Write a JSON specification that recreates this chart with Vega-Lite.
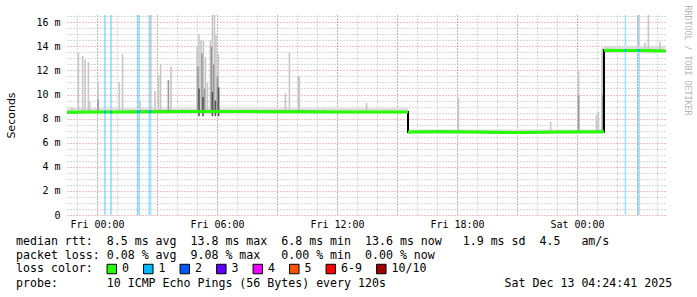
{
  "$schema": "https://vega.github.io/schema/vega-lite/v6.json",
  "autosize": "none",
  "width": 600,
  "height": 200,
  "padding": {"left": 67, "top": 15, "right": 30, "bottom": 82},
  "background": "white",
  "config": {
    "view": {"stroke": null},
    "axis": {"labelFont": "DejaVu Sans Mono", "labelFontSize": 10, "labelColor": "#000", "titleFont": "DejaVu Sans", "titleFontWeight": "normal", "titleColor": "#000", "labelFlush": false, "labelOverlap": false}
  },
  "title": {
    "text": [
      "median\u00a0rtt:\u00a0\u00a08.5\u00a0ms\u00a0avg\u00a0\u00a013.8\u00a0ms\u00a0max\u00a0\u00a06.8\u00a0ms\u00a0min\u00a0\u00a013.6\u00a0ms\u00a0now\u00a0\u00a0\u00a01.9\u00a0ms\u00a0sd\u00a0\u00a04.5\u00a0\u00a0\u00a0am/s",
      "packet\u00a0loss:\u00a00.08\u00a0%\u00a0avg\u00a0\u00a09.08\u00a0%\u00a0max\u00a0\u00a0\u00a00.00\u00a0%\u00a0min\u00a0\u00a00.00\u00a0%\u00a0now"
    ],
    "subtitle": "probe:\u00a0\u00a0\u00a0\u00a0\u00a0\u00a0\u00a010\u00a0ICMP\u00a0Echo\u00a0Pings\u00a0(56\u00a0Bytes)\u00a0every\u00a0120s\u00a0\u00a0\u00a0\u00a0\u00a0\u00a0\u00a0\u00a0\u00a0\u00a0\u00a0\u00a0\u00a0\u00a0\u00a0\u00a0\u00a0Sat\u00a0Dec\u00a013\u00a004:24:41\u00a02025",
    "orient": "bottom",
    "anchor": "start",
    "frame": "group",
    "font": "DejaVu Sans Mono",
    "fontSize": 11.6,
    "fontWeight": "normal",
    "color": "#000",
    "lineHeight": 14.2,
    "subtitleFont": "DejaVu Sans Mono",
    "subtitleFontSize": 11.6,
    "subtitleFontWeight": "normal",
    "subtitleColor": "#000",
    "subtitleLineHeight": 14.2,
    "subtitlePadding": 16,
    "offset": -40,
    "dx": -51
  },
  "datasets": {
    "loss": [
      {"h1": 0.35, "h2": 0.45, "loss": "1", "med": 8.55},
      {"h1": 0.65, "h2": 0.75, "loss": "1", "med": 8.55},
      {"h1": 2.0, "h2": 2.15, "loss": "1", "med": 8.57},
      {"h1": 2.57, "h2": 2.72, "loss": "1", "med": 8.57},
      {"h1": 26.38, "h2": 26.46, "loss": "1", "med": 13.65},
      {"h1": 27.02, "h2": 27.15, "loss": "1", "med": 13.65}
    ],
    "median": [
      {"i": 0, "h": -1.5, "med": 8.52, "seg": 1},
      {"i": 1, "h": -0.5, "med": 8.55, "seg": 1},
      {"i": 2, "h": 1, "med": 8.55, "seg": 1},
      {"i": 3, "h": 3, "med": 8.58, "seg": 1},
      {"i": 4, "h": 5, "med": 8.6, "seg": 1},
      {"i": 5, "h": 6, "med": 8.6, "seg": 1},
      {"i": 6, "h": 8, "med": 8.58, "seg": 1},
      {"i": 7, "h": 10, "med": 8.57, "seg": 1},
      {"i": 8, "h": 12, "med": 8.55, "seg": 1},
      {"i": 9, "h": 14, "med": 8.55, "seg": 1},
      {"i": 10, "h": 15.55, "med": 8.55, "seg": 1},
      {"i": 11, "h": 15.55, "med": 6.88, "seg": 2},
      {"i": 12, "h": 17, "med": 6.9, "seg": 2},
      {"i": 13, "h": 19, "med": 6.88, "seg": 2},
      {"i": 14, "h": 21, "med": 6.85, "seg": 2},
      {"i": 15, "h": 23, "med": 6.88, "seg": 2},
      {"i": 16, "h": 25.35, "med": 6.9, "seg": 2},
      {"i": 17, "h": 25.35, "med": 13.68, "seg": 3},
      {"i": 18, "h": 26, "med": 13.65, "seg": 3},
      {"i": 19, "h": 27, "med": 13.65, "seg": 3},
      {"i": 20, "h": 28.42, "med": 13.62, "seg": 3}
    ],
    "base": [
      {"h": -1.5, "lo": 8.4, "hi": 8.85},
      {"h": 15.55, "lo": 6.75, "hi": 7.1},
      {"h": 25.35, "lo": 13.45, "hi": 14.05},
      {"h": 28.42, "lo": 13.45, "hi": 14.05}
    ],
    "spikes": [
      {"h": -1.25, "lo": 8.5, "hi": 8.95, "s": "light"},
      {"h": -0.93, "lo": 8.55, "hi": 13.45, "s": "light"},
      {"h": -0.72, "lo": 8.55, "hi": 13.2, "s": "light"},
      {"h": -0.6, "lo": 8.55, "hi": 12.9, "s": "light"},
      {"h": -0.43, "lo": 8.55, "hi": 12.7, "s": "light"},
      {"h": -0.37, "lo": 8.55, "hi": 9.4, "s": "light"},
      {"h": 0.05, "lo": 8.55, "hi": 11.1, "s": "light"},
      {"h": 1.12, "lo": 8.55, "hi": 11.0, "s": "light"},
      {"h": 1.28, "lo": 8.55, "hi": 13.35, "s": "light"},
      {"h": 2.15, "lo": 8.55, "hi": 9.5, "s": "light"},
      {"h": 2.68, "lo": 8.55, "hi": 16.6, "s": "light"},
      {"h": 2.9, "lo": 8.55, "hi": 10.3, "s": "light"},
      {"h": 3.08, "lo": 8.55, "hi": 11.6, "s": "light"},
      {"h": 3.18, "lo": 8.55, "hi": 12.5, "s": "light"},
      {"h": 3.7, "lo": 8.55, "hi": 12.3, "s": "light"},
      {"h": 5.0, "lo": 8.55, "hi": 14.0, "s": "light"},
      {"h": 5.1, "lo": 8.55, "hi": 15.0, "s": "light"},
      {"h": 5.2, "lo": 8.55, "hi": 14.5, "s": "light"},
      {"h": 5.32, "lo": 8.55, "hi": 14.45, "s": "light"},
      {"h": 5.42, "lo": 8.55, "hi": 13.1, "s": "light"},
      {"h": 5.52, "lo": 8.55, "hi": 11.0, "s": "light"},
      {"h": 5.67, "lo": 8.55, "hi": 14.5, "s": "light"},
      {"h": 5.77, "lo": 8.55, "hi": 16.6, "s": "light"},
      {"h": 5.87, "lo": 8.55, "hi": 16.6, "s": "light"},
      {"h": 5.95, "lo": 8.55, "hi": 15.0, "s": "light"},
      {"h": 6.07, "lo": 8.55, "hi": 13.4, "s": "light"},
      {"h": 9.42, "lo": 8.55, "hi": 10.1, "s": "light"},
      {"h": 9.62, "lo": 8.55, "hi": 13.5, "s": "light"},
      {"h": 10.07, "lo": 8.55, "hi": 11.5, "s": "light"},
      {"h": 10.12, "lo": 8.55, "hi": 11.5, "s": "light"},
      {"h": 13.48, "lo": 8.55, "hi": 9.3, "s": "light"},
      {"h": 18.07, "lo": 6.88, "hi": 9.73, "s": "light"},
      {"h": 22.68, "lo": 6.88, "hi": 7.74, "s": "light"},
      {"h": 24.08, "lo": 6.88, "hi": 12.0, "s": "light"},
      {"h": 24.97, "lo": 6.88, "hi": 8.3, "s": "light"},
      {"h": 25.07, "lo": 6.88, "hi": 8.57, "s": "light"},
      {"h": 25.25, "lo": 6.88, "hi": 13.8, "s": "light"},
      {"h": 25.3, "lo": 6.88, "hi": 13.9, "s": "light"},
      {"h": 27.05, "lo": 13.6, "hi": 16.6, "s": "light"},
      {"h": 27.4, "lo": 13.6, "hi": 14.3, "s": "light"},
      {"h": 27.57, "lo": 13.6, "hi": 16.6, "s": "light"},
      {"h": 28.15, "lo": 13.6, "hi": 14.4, "s": "light"},
      {"h": 0.05, "lo": 8.55, "hi": 9.6, "s": "mid"},
      {"h": 3.57, "lo": 8.55, "hi": 11.2, "s": "mid"},
      {"h": 5.05, "lo": 8.5, "hi": 12.3, "s": "mid"},
      {"h": 5.25, "lo": 8.5, "hi": 13.4, "s": "mid"},
      {"h": 5.37, "lo": 8.5, "hi": 10.5, "s": "mid"},
      {"h": 5.72, "lo": 8.5, "hi": 14.0, "s": "mid"},
      {"h": 5.83, "lo": 8.5, "hi": 12.5, "s": "mid"},
      {"h": 6.02, "lo": 8.5, "hi": 11.5, "s": "mid"},
      {"h": 24.08, "lo": 6.88, "hi": 9.95, "s": "mid"},
      {"h": 25.28, "lo": 6.88, "hi": 10.0, "s": "mid"},
      {"h": 5.1, "lo": 8.2, "hi": 10.5, "s": "dark"},
      {"h": 5.3, "lo": 8.2, "hi": 9.8, "s": "dark"},
      {"h": 5.77, "lo": 8.2, "hi": 10.2, "s": "dark"},
      {"h": 5.92, "lo": 8.2, "hi": 9.5, "s": "dark"},
      {"h": 6.08, "lo": 8.2, "hi": 10.6, "s": "dark"}
    ]
  },
  "layer": [
    {
      "data": {"name": "loss"},
      "mark": {"type": "rect", "opacity": 0.36},
      "encoding": {
        "x": {"field": "h1", "type": "quantitative", "axis": null, "scale": {"domain": [-1.5, 28.5], "nice": false, "zero": false}},
        "x2": {"field": "h2"},
        "y": {"datum": 0, "type": "quantitative", "axis": null, "scale": {"domain": [0, 16.6], "nice": false, "zero": false}},
        "y2": {"datum": 16.6},
        "fill": {
          "field": "loss", "type": "nominal",
          "scale": {"domain": ["0", "1", "2", "3", "4", "5", "6-9", "10/10"], "range": ["#26ff00", "#00b8ff", "#0059ff", "#5e00ff", "#ee00ff", "#ff5500", "#ff0000", "#a10000"]},
          "legend": {
            "orient": "none", "legendX": -51, "legendY": 248, "direction": "horizontal",
            "title": "loss color:", "titleOrient": "left", "titleFont": "DejaVu Sans Mono", "titleFontSize": 11.6, "titleFontWeight": "normal", "titleColor": "#000", "titlePadding": 13,
            "labelFont": "DejaVu Sans Mono", "labelFontSize": 11.6, "labelColor": "#000", "labelOffset": 4.5,
            "symbolType": "square", "symbolSize": 90, "symbolStrokeColor": "#000", "symbolStrokeWidth": 1, "symbolOpacity": 1,
            "columnPadding": 11.5
          }
        }
      }
    },
    {
      "data": {"name": "base"},
      "mark": {"type": "area", "interpolate": "step-after", "color": "#dcdcdc"},
      "encoding": {
        "x": {"field": "h", "type": "quantitative", "scale": {"domain": [-1.5, 28.5], "nice": false, "zero": false},
          "axis": {"orient": "bottom", "grid": true, "gridColor": "#b4b4b4", "gridDash": [1, 2], "labels": false, "ticks": false, "domain": false, "title": null,
            "values": [-1, 0, 1, 2, 3, 4, 5, 6, 7, 8, 9, 10, 11, 12, 13, 14, 15, 16, 17, 18, 19, 20, 21, 22, 23, 24, 25, 26, 27, 28]}},
        "y": {"field": "lo", "type": "quantitative", "scale": {"domain": [0, 16.6], "nice": false, "zero": false},
          "axis": {"orient": "left", "grid": true, "gridColor": "#b4b4b4", "gridDash": [1, 2], "labels": false, "ticks": false, "domain": false, "title": null,
            "values": [0.5, 1, 1.5, 2.5, 3, 3.5, 4.5, 5, 5.5, 6.5, 7, 7.5, 8.5, 9, 9.5, 10.5, 11, 11.5, 12.5, 13, 13.5, 14.5, 15, 15.5, 16.5]}},
        "y2": {"field": "hi"}
      }
    },
    {
      "data": {"name": "spikes"},
      "mark": {"type": "rule", "strokeWidth": 1.6},
      "encoding": {
        "x": {"field": "h", "type": "quantitative", "scale": {"domain": [-1.5, 28.5], "nice": false, "zero": false},
          "axis": {"orient": "bottom", "grid": true, "gridColor": "#e88080", "gridDash": [1, 2], "ticks": false, "domain": false, "title": null, "labelPadding": 4,
            "values": [0, 3, 6, 9, 12, 15, 18, 21, 24, 27],
            "labelExpr": "datum.value % 6 != 0 ? '' : (datum.value < 24 ? 'Fri ' : 'Sat ') + ((datum.value % 24) < 10 ? '0' : '') + (datum.value % 24) + ':00'"}},
        "y": {"field": "lo", "type": "quantitative", "scale": {"domain": [0, 16.6], "nice": false, "zero": false},
          "axis": {"orient": "left", "grid": true, "gridColor": "#e88080", "gridDash": [1, 2], "ticks": false, "domain": false, "title": "Seconds", "titleFontSize": 11, "titlePadding": 19, "labelPadding": 7,
            "values": [0, 2, 4, 6, 8, 10, 12, 14, 16],
            "labelExpr": "datum.value == 0 ? '0' : datum.value + ' m'"}},
        "y2": {"field": "hi"},
        "stroke": {"field": "s", "type": "nominal", "legend": null, "scale": {"domain": ["light", "mid", "dark"], "range": ["#c6c6c6", "#9a9a9a", "#555555"]}}
      }
    },
    {
      "data": {"name": "median"},
      "mark": {"type": "line", "color": "#000", "strokeWidth": 2},
      "encoding": {
        "x": {"field": "h", "type": "quantitative", "axis": null, "scale": {"domain": [-1.5, 28.5], "nice": false, "zero": false}},
        "y": {"field": "med", "type": "quantitative", "scale": {"domain": [0, 16.6], "nice": false, "zero": false},
          "axis": {"orient": "right", "title": "RRDTOOL / TOBI OETIKER", "labels": false, "ticks": false, "domain": false, "grid": false, "titleFont": "DejaVu Sans Mono", "titleFontSize": 8.3, "titleColor": "#b4b4b4", "titleFontWeight": "normal", "titleAngle": 90, "titleX": 19, "titleY": 45, "titleAlign": "center", "titleBaseline": "middle"}},
        "order": {"field": "i"}
      }
    },
    {
      "data": {"name": "median"},
      "mark": {"type": "line", "color": "#26ff00", "strokeWidth": 3},
      "encoding": {
        "x": {"field": "h", "type": "quantitative", "axis": null, "scale": {"domain": [-1.5, 28.5], "nice": false, "zero": false}},
        "y": {"field": "med", "type": "quantitative", "axis": null, "scale": {"domain": [0, 16.6], "nice": false, "zero": false}},
        "detail": {"field": "seg"},
        "order": {"field": "i"}
      }
    },
    {
      "data": {"name": "loss"},
      "mark": {"type": "rule", "color": "#00b8ff", "strokeWidth": 3},
      "encoding": {
        "x": {"field": "h1", "type": "quantitative", "axis": null, "scale": {"domain": [-1.5, 28.5], "nice": false, "zero": false}},
        "x2": {"field": "h2"},
        "y": {"field": "med", "type": "quantitative", "axis": null, "scale": {"domain": [0, 16.6], "nice": false, "zero": false}}
      }
    },
    {
      "mark": {"type": "rule", "color": "#222", "strokeWidth": 1},
      "encoding": {
        "x": {"datum": -1.68, "type": "quantitative", "axis": null, "scale": {"domain": [-1.5, 28.5], "nice": false, "zero": false}},
        "x2": {"datum": 28.6},
        "y": {"datum": 0, "type": "quantitative", "axis": null, "scale": {"domain": [0, 16.6], "nice": false, "zero": false}}
      }
    },
    {
      "mark": {"type": "rule", "color": "#444", "strokeWidth": 1},
      "encoding": {
        "x": {"datum": -1.5, "type": "quantitative", "axis": null, "scale": {"domain": [-1.5, 28.5], "nice": false, "zero": false}},
        "y": {"datum": -0.25, "type": "quantitative", "axis": null, "scale": {"domain": [0, 16.6], "nice": false, "zero": false}},
        "y2": {"datum": 16.85}
      }
    },
    {
      "mark": {"type": "point", "shape": "triangle-up", "filled": true, "color": "#991111", "size": 36, "opacity": 1},
      "encoding": {
        "x": {"datum": -1.5, "type": "quantitative", "axis": null, "scale": {"domain": [-1.5, 28.5], "nice": false, "zero": false}},
        "y": {"datum": 16.93, "type": "quantitative", "axis": null, "scale": {"domain": [0, 16.6], "nice": false, "zero": false}}
      }
    },
    {
      "mark": {"type": "point", "shape": "triangle-right", "filled": true, "color": "#991111", "size": 36, "opacity": 1},
      "encoding": {
        "x": {"datum": 28.72, "type": "quantitative", "axis": null, "scale": {"domain": [-1.5, 28.5], "nice": false, "zero": false}},
        "y": {"datum": 0, "type": "quantitative", "axis": null, "scale": {"domain": [0, 16.6], "nice": false, "zero": false}}
      }
    }
  ],
  "resolve": {"axis": {"x": "independent", "y": "independent"}}
}
